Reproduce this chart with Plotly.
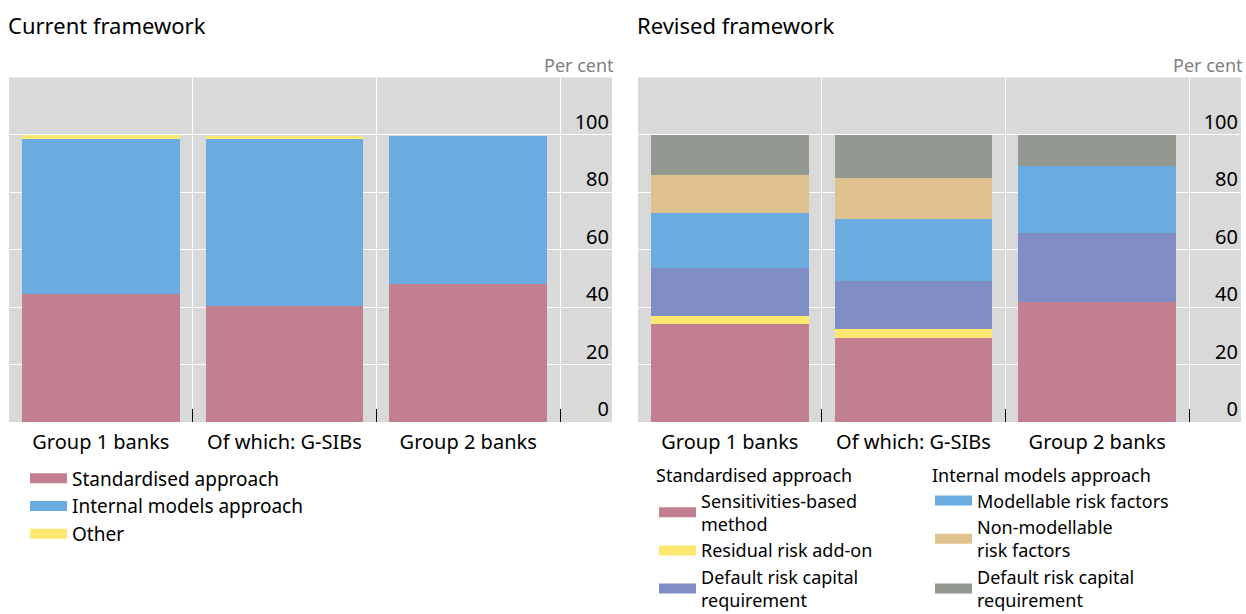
import plotly.graph_objects as go

# ---------------- data ----------------
categories = ["Group 1 banks", "Of which: G-SIBs", "Group 2 banks"]

# Current framework (per cent)
cur_standardised = [44.6, 40.4, 47.9]
cur_internal = [54.1, 58.2, 51.6]
cur_other = [1.3, 0.9, 0.0]

# Revised framework (per cent)
rev_sbm = [34.1, 29.3, 41.8]
rev_rrao = [2.8, 3.1, 0.0]
rev_sa_drc = [16.8, 16.7, 24.1]
rev_mrf = [19.1, 21.6, 23.2]
rev_nmrf = [13.3, 14.3, 0.0]
rev_ima_drc = [13.9, 15.0, 10.9]

y_ticks = [0, 20, 40, 60, 80, 100]

PINK = "#c27f8f"
BLUE = "#6aacdf"
YELLOW = "#ffe870"
PURPLE = "#818ec6"
TAN = "#e0c290"
GREY = "#939890"

FONT = "Noto Sans"
W, H = 1246, 614

fig = go.Figure()


def add_series(xaxis, yaxis, values, name, color, legend):
    fig.add_trace(go.Bar(
        x=categories, y=values, name=name, marker_color=color,
        marker_line_width=0, width=0.86, xaxis=xaxis, yaxis=yaxis,
        legendgroup=name + xaxis, showlegend=False, hoverinfo="y+name"))
    fig.add_trace(go.Scatter(
        x=[None], y=[None], mode="lines", name=name,
        line=dict(color=color, width=15), xaxis=xaxis, yaxis=yaxis,
        legendgroup=name + xaxis, legend=legend, showlegend=True))


add_series("x", "y", cur_standardised, "Standardised approach", PINK, "legend")
add_series("x", "y", cur_internal, "Internal models approach", BLUE, "legend")
add_series("x", "y", cur_other, "Other", YELLOW, "legend")

add_series("x2", "y2", rev_sbm, "Sensitivities-based<br>method", PINK, "legend2")
add_series("x2", "y2", rev_rrao, "Residual risk add-on", YELLOW, "legend2")
add_series("x2", "y2", rev_sa_drc, "Default risk capital<br>requirement", PURPLE, "legend2")
add_series("x2", "y2", rev_mrf, "Modellable risk factors", BLUE, "legend3")
add_series("x2", "y2", rev_nmrf, "Non-modellable<br>risk factors", TAN, "legend3")
add_series("x2", "y2", rev_ima_drc, "Default risk capital<br>requirement", GREY, "legend3")

ydom = [1 - 422 / H, 1 - 77.5 / H]
xdom1 = [9 / W, 612 / W]
xdom2 = [638 / W, 1241 / W]

xcommon = dict(
    type="category", tickson="boundaries", range=[-0.5, 2.783],
    showgrid=True, gridcolor="white", gridwidth=1.2,
    ticks="inside", ticklen=13, tickcolor="#000000", tickwidth=1,
    ticklabelstandoff=6,
    showline=False, zeroline=False, fixedrange=True,
    tickfont=dict(family=FONT, size=20, color="#000000"),
)
ycommon = dict(
    range=[0, 120], tickvals=y_ticks, side="right",
    ticklabelposition="inside", ticklabelshift=-13, ticks="",
    showgrid=True, gridcolor="white", gridwidth=1.2,
    zeroline=False, showline=False, fixedrange=True,
    tickfont=dict(family=FONT, size=20, color="#000000"),
)


def legend_opts(size):
    return dict(
        orientation="v", xanchor="left", yanchor="top",
        bgcolor="rgba(0,0,0,0)", borderwidth=0,
        font=dict(family=FONT, size=size, color="#000000"),
        itemwidth=37, tracegroupgap=0, itemclick=False, itemdoubleclick=False,
    )


fig.update_layout(
    width=W, height=H,
    margin=dict(l=0, r=0, t=0, b=0, autoexpand=False),
    paper_bgcolor="white", plot_bgcolor="#d9d9d9",
    barmode="stack", bargap=0.14,
    font=dict(family=FONT, size=20, color="#000000"),
    xaxis=dict(domain=xdom1, anchor="y", **xcommon),
    yaxis=dict(domain=ydom, anchor="x", **ycommon),
    xaxis2=dict(domain=xdom2, anchor="y2", **xcommon),
    yaxis2=dict(domain=ydom, anchor="x2", **ycommon),
    legend=dict(x=25 / W, y=1 - 459.5 / H, **legend_opts(19)),
    legend2=dict(x=654 / W, y=1 - 459 / H,
                 title=dict(text="Standardised approach", side="top",
                            font=dict(family=FONT, size=18, color="#000000")),
                 **legend_opts(18)),
    legend3=dict(x=930 / W, y=1 - 459 / H,
                 title=dict(text="Internal models approach", side="top",
                            font=dict(family=FONT, size=18, color="#000000")),
                 **legend_opts(18)),
    showlegend=True,
    annotations=[
        dict(text="Current framework", x=6 / W, y=1 - 25 / H, xref="paper", yref="paper",
             xanchor="left", yanchor="middle", showarrow=False,
             font=dict(family=FONT, size=22, color="#000000")),
        dict(text="Revised framework", x=635 / W, y=1 - 25 / H, xref="paper", yref="paper",
             xanchor="left", yanchor="middle", showarrow=False,
             font=dict(family=FONT, size=22, color="#000000")),
        dict(text="Per cent", x=616 / W, y=1 - 65 / H, xref="paper", yref="paper",
             xanchor="right", yanchor="middle", showarrow=False,
             font=dict(family=FONT, size=18, color="#808080")),
        dict(text="Per cent", x=1245 / W, y=1 - 65 / H, xref="paper", yref="paper",
             xanchor="right", yanchor="middle", showarrow=False,
             font=dict(family=FONT, size=18, color="#808080")),
    ],
)

fig.write_html("out.html", config={"displayModeBar": False},
               post_script="document.body.style.margin='0';document.body.style.overflow='hidden';")
